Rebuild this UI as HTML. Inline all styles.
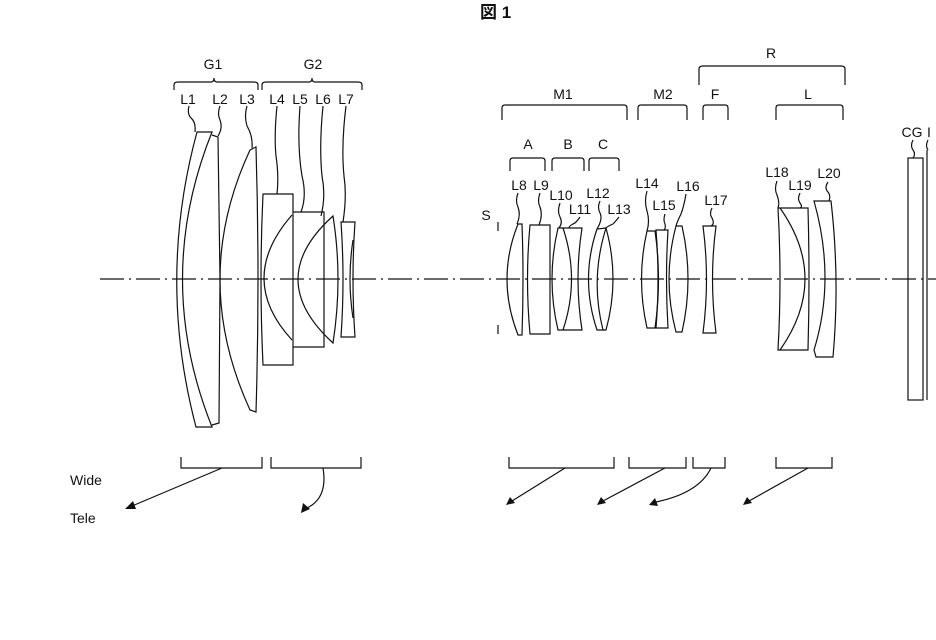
<!DOCTYPE html>
<html><head><meta charset="utf-8"><style>
html,body{margin:0;padding:0;background:#fff;}
svg{display:block;}
text{font-family:"Liberation Sans","Noto Sans CJK JP",sans-serif;font-size:14px;fill:#111;}
</style></head><body>
<svg width="936" height="640" viewBox="0 0 936 640" xmlns="http://www.w3.org/2000/svg">
<g stroke="#111" stroke-width="1.2" fill="none">
<!-- axis -->
<line x1="100" y1="279" x2="936" y2="279" stroke-dasharray="24,5,2,5"/>
<!-- top brackets -->
<path d="M174,90 v-5 q0,-3 4,-3 h33 q3,0 3,-4 q0,4 3,4 h37 q4,0 4,3 v5"/>
<path d="M262,90 v-5 q0,-3 4,-3 h43 q3,0 3,-4 q0,4 3,4 h43 q4,0 4,3 v5"/>
<path d="M699,85 v-16 q0,-3 4,-3 h138 q4,0 4,3 v16"/>
<path d="M502,120 v-12 q0,-3 3,-3 h119 q3,0 3,3 v12"/>
<path d="M638,120 v-12 q0,-3 3,-3 h43 q3,0 3,3 v12"/>
<path d="M703,120 v-12 q0,-3 3,-3 h19 q3,0 3,3 v12"/>
<path d="M776,120 v-12 q0,-3 3,-3 h61 q3,0 3,3 v12"/>
<path d="M510,171 v-10 q0,-3 3,-3 h29 q3,0 3,3 v10"/>
<path d="M552,171 v-10 q0,-3 3,-3 h26 q3,0 3,3 v10"/>
<path d="M589,171 v-10 q0,-3 3,-3 h24 q3,0 3,3 v10"/>
<!-- G1 lenses -->
<path d="M197,132 Q157,279 196,427 H212 Q153,279 212,132 Z"/>
<path d="M212,135 L218,137 L220,279 L219,423 L212,425"/>
<path d="M250,150 Q190,279 250,410 L256,412 Q260,279 256,147 Z"/>
<!-- G2 -->
<path d="M263,194 H293 V365 H263 Q259,279 263,194 Z"/>
<path d="M292,215 Q236,279 292,340"/>
<path d="M293,212 H324 V347 H293"/>
<path d="M333,216 Q263,279 333,343 Q343,279 333,216 Z"/>
<path d="M341,222 H355 Q351,279 355,337 H341 Q345,279 341,222 Z"/>
<path d="M353,240 Q347,279 353,318"/>
<!-- M1 -->
<line x1="498" y1="222" x2="498" y2="231"/><line x1="498" y1="325" x2="498" y2="334"/>
<path d="M518,224 Q496,279 518,335 H522 Q524,279 522,224 Z"/>
<path d="M530,225 H550 V334 H530 Q525,279 530,225 Z"/>
<path d="M558,228 Q546,279 558,330 H563 Q580,279 563,228 Z"/>
<path d="M563,228 H582 Q574,279 582,330 H563"/>
<path d="M597,229 Q580,279 597,330 H603 Q590,279 606,228 Z"/>
<path d="M606,228 Q620,279 606,330 L603,330"/>
<!-- M2 -->
<path d="M647,231 Q636,279 647,328 H655 Q662,279 655,231 Z"/>
<path d="M656,230 H668 Q665,279 668,328 H656 Q660,279 656,230 Z"/>
<path d="M676,226 Q662,279 676,332 H682 Q694,279 682,226 Z"/>
<path d="M703,226 H716 Q709,279 716,333 H703 Q710,279 703,226 Z"/>
<!-- R -->
<path d="M778,208 H808 Q810,279 808,350 H778 Q782,279 778,208 Z"/>
<path d="M780,208 Q830,279 780,350"/>
<path d="M814,201 H831 Q840,279 833,357 H816 L814,350 Q836,279 814,201 Z"/>
<rect x="908" y="158" width="15" height="242"/>
<line x1="927" y1="150" x2="927" y2="400"/>
<!-- leader lines -->
<path d="M189,106 q-2,8 2,12 q5,4 4,14"/>
<path d="M220,106 q-3,8 0,14 q3,8 -2,16"/>
<path d="M247,106 q-3,10 0,20 q6,10 5,22"/>
<path d="M277,106 q-3,30 -1,50 q3,20 1,38"/>
<path d="M300,106 q-3,40 2,70 q5,20 -1,36"/>
<path d="M323,106 q-4,40 -1,70 q4,20 -1,40"/>
<path d="M346,106 q-5,40 -2,70 q3,20 -1,46"/>
<path d="M518,193 q-3,8 0,14 q3,8 -1,17"/>
<path d="M540,193 q-3,8 0,14 q3,8 -1,18"/>
<path d="M560,203 q-3,8 0,14 q3,6 -1,11"/>
<path d="M580,217 q-4,6 -7,7 q-4,2 -4,4"/>
<path d="M600,201 q-3,6 0,12 q3,6 -3,16"/>
<path d="M619,217 q-3,4 -6,7 q-5,2 -7,4"/>
<path d="M647,191 q-3,10 0,20 q3,10 0,20"/>
<path d="M665,214 q-2,6 0,10 q1,4 -1,6"/>
<path d="M686,194 q-2,12 -5,20 q-4,8 -5,12"/>
<path d="M712,208 q-3,6 0,10 q3,6 -1,8"/>
<path d="M777,181 q-3,8 0,14 q3,8 1,13"/>
<path d="M800,193 q-3,6 0,10 q3,4 0,5"/>
<path d="M828,182 q-4,6 0,10 q3,4 1,9"/>
<path d="M913,140 q-3,6 0,10 q3,4 0,8"/>
<path d="M928,140 q-3,6 0,10"/>
<!-- bottom brackets -->
<path d="M181,457 v11 h81 v-11"/>
<path d="M271,457 v11 h90 v-11"/>
<path d="M509,457 v11 h105 v-11"/>
<path d="M629,457 v11 h57 v-11"/>
<path d="M693,457 v11 h32 v-11"/>
<path d="M776,457 v11 h56 v-11"/>
<!-- arrows -->
<line x1="222" y1="468" x2="132" y2="506"/>
<path d="M323,468 q5,30 -16,40"/>
<line x1="565" y1="468" x2="512" y2="501"/>
<line x1="665" y1="468" x2="603" y2="501"/>
<path d="M711,468 q-12,25 -55,34"/>
<line x1="808" y1="468" x2="749" y2="501"/>
</g>
<g fill="#111">
<polygon points="125,509 133,501 136,509"/>
<polygon points="301,513 303,503 310,509"/>
<polygon points="506,505 510,497 515,503"/>
<polygon points="597,505 601,497 606,503"/>
<polygon points="649,505 655,498 658,506"/>
<polygon points="743,505 747,497 752,503"/>
</g>
<text x="480" y="18" style="font-size:17px;font-weight:bold">図 1</text>
<g text-anchor="middle">
<text x="213" y="69">G1</text><text x="313" y="69">G2</text>
<text x="188" y="104">L1</text><text x="220" y="104">L2</text><text x="247" y="104">L3</text>
<text x="277" y="104">L4</text><text x="300" y="104">L5</text><text x="323" y="104">L6</text><text x="346" y="104">L7</text>
<text x="771" y="58">R</text>
<text x="563" y="99">M1</text><text x="663" y="99">M2</text><text x="715" y="99">F</text><text x="808" y="99">L</text>
<text x="528" y="149">A</text><text x="568" y="149">B</text><text x="603" y="149">C</text>
<text x="486" y="220">S</text>
<text x="519" y="190">L8</text><text x="541" y="190">L9</text>
<text x="561" y="200">L10</text><text x="580" y="214">L11</text>
<text x="598" y="198">L12</text><text x="619" y="214">L13</text>
<text x="647" y="188">L14</text><text x="664" y="210">L15</text><text x="688" y="191">L16</text><text x="716" y="205">L17</text>
<text x="777" y="177">L18</text><text x="800" y="190">L19</text><text x="829" y="178">L20</text>
<text x="912" y="137">CG</text><text x="929" y="137">I</text>
</g>
<text x="70" y="485">Wide</text>
<text x="70" y="523">Tele</text>
</svg>
</body></html>
